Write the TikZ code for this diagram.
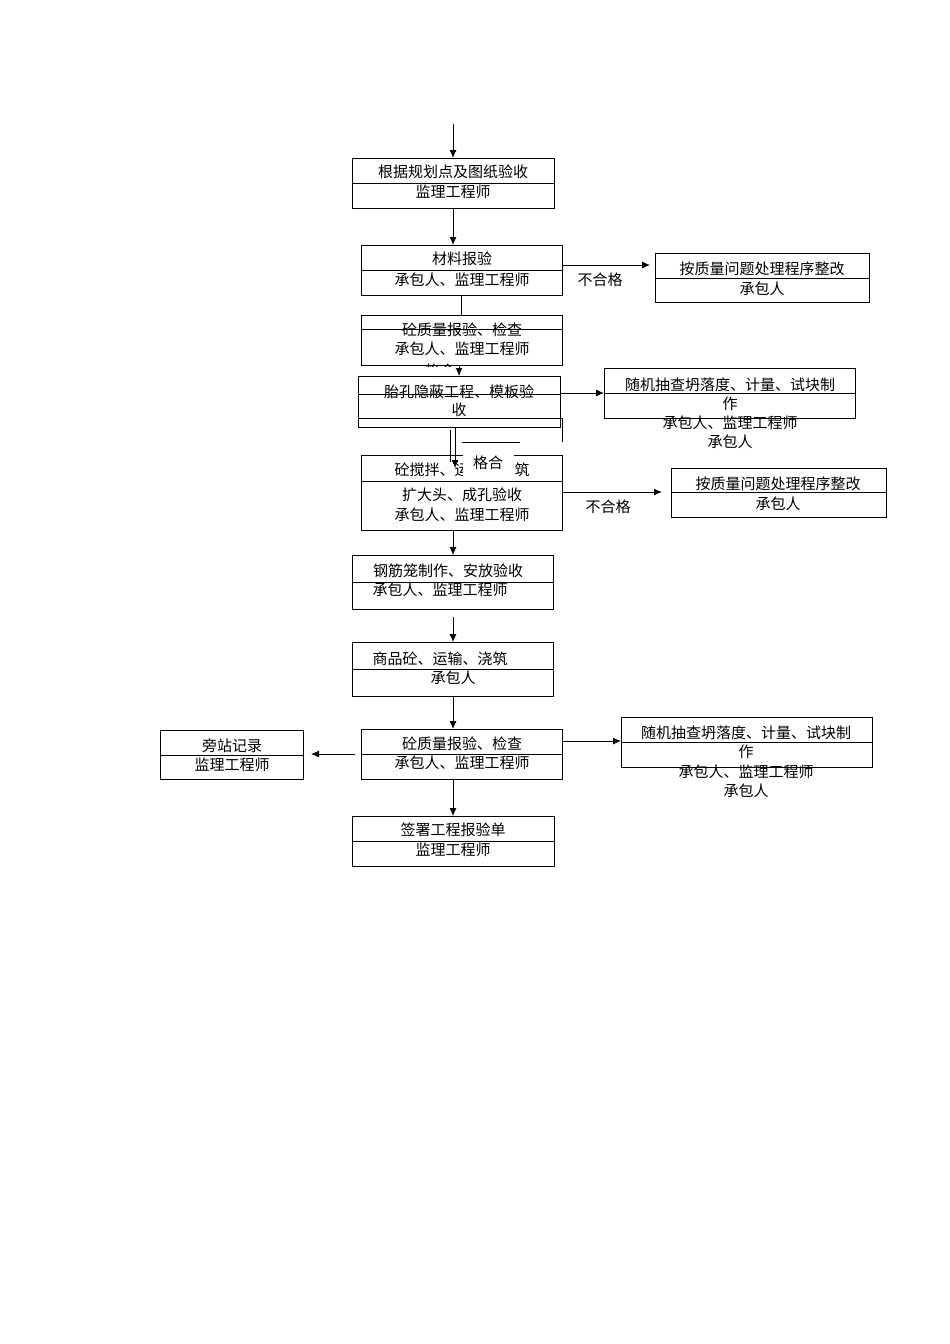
\documentclass[tikz,border=0pt]{standalone}
\usepackage{fontspec}
\setmainfont{Noto Sans CJK SC}
\usetikzlibrary{arrows.meta}
\begin{document}
\begin{tikzpicture}[x=1pt,y=-1pt,
  bx/.style={draw,line width=0.9pt},
  tx/.style={font=\fontsize{15}{17}\selectfont,inner sep=0pt},
  ar/.style={-{Latex[length=8pt,width=7pt]},line width=0.9pt},
  ln/.style={line width=0.9pt}]
\useasboundingbox (0,0) rectangle (950,1344);
\newcommand\bbox[6]{% name x1 y1 x2 y2 divider
  \draw[bx] (#2,#3) rectangle (#4,#5);
  \draw[ln] (#2,#6) -- (#4,#6);
  \coordinate (#1) at ({(#2+#4)/2},#3);}
% boxes
\bbox{b1}{352}{158}{554}{208}{183}
\node[tx] at (453,172) {根据规划点及图纸验收};
\node[tx] at (453,192) {监理工程师};
\bbox{b2}{361}{245}{562}{295}{270}
\node[tx] at (462,259) {材料报验};
\node[tx] at (462,280) {承包人、监理工程师};
\bbox{r1}{655}{253}{869}{302}{278}
\node[tx] at (762,269) {按质量问题处理程序整改};
\node[tx] at (762,289) {承包人};
\bbox{b3}{361}{315}{562}{365}{329}
\node[tx] at (462,330) {砼质量报验、检查};
\node[tx] at (462,349) {承包人、监理工程师};
\node[tx] at (440,371) {格合};
\fill[white] (415,366.5) rectangle (470,375.5);
\draw[bx] (358,376) rectangle (560,427);
\draw[ln] (358,394) -- (560,394);
\draw[ln] (358,418) -- (562,418) -- (562,442);
\node[tx] at (459,392) {胎孔隐蔽工程、模板验};
\node[tx] at (459,410) {收};
\bbox{r2}{604}{368}{855}{418}{393}
\node[tx] at (730,385) {随机抽查坍落度、计量、试块制};
\node[tx] at (730,404) {作};
\node[tx] at (730,423) {承包人、监理工程师};
\node[tx] at (730,442) {承包人};
\bbox{b5}{361}{455}{562}{530}{481}
\node[tx] at (462,470) {砼搅拌、运输、浇筑};
\node[tx] at (462,495) {扩大头、成孔验收};
\node[tx] at (462,515) {承包人、监理工程师};
\fill[white] (463,443) rectangle (514,477);
\draw[ln] (462,442) -- (520,442);
\node[tx] at (488,463) {格合};
\bbox{r3}{671}{468}{886}{517}{492}
\node[tx] at (778,484) {按质量问题处理程序整改};
\node[tx] at (778,504) {承包人};
\bbox{b6}{352}{555}{553}{609}{582}
\node[tx] at (448,571) {钢筋笼制作、安放验收};
\node[tx] at (440,590) {承包人、监理工程师};
\bbox{b7}{352}{642}{553}{696}{669}
\node[tx] at (440,659) {商品砼、运输、浇筑};
\node[tx] at (453,678) {承包人};
\bbox{b8}{361}{729}{562}{779}{754}
\node[tx] at (462,744) {砼质量报验、检查};
\node[tx] at (462,763) {承包人、监理工程师};
\bbox{lf}{160}{730}{303}{779}{755}
\node[tx] at (232,746) {旁站记录};
\node[tx] at (232,765) {监理工程师};
\bbox{r4}{621}{717}{872}{767}{742}
\node[tx] at (746,733) {随机抽查坍落度、计量、试块制};
\node[tx] at (746,752) {作};
\node[tx] at (746,772) {承包人、监理工程师};
\node[tx] at (746,791) {承包人};
\bbox{b9}{352}{816}{554}{866}{841}
\node[tx] at (453,830) {签署工程报验单};
\node[tx] at (453,850) {监理工程师};
% connectors
\coordinate (top) at (453,124);
\draw[ar] (top) -- (b1);
\draw[ar] (453,208) -- (453,245);
\draw[ln] (461,295) -- (461,315);
\draw[ar] (562,265) -- (650,265);
\node[tx] at (600,280) {不合格};
\draw[ar] (459,365) -- (459,376);
\draw[ar] (560,393) -- (604,393);
\draw[ar] (455,427) -- (455,468);
\draw[ln] (450,430) -- (450,462);
\draw[ar] (562,492) -- (662,492);
\node[tx] at (608,507) {不合格};
\draw[ar] (453,530) -- (453,555);
\draw[ar] (453,617) -- (453,642);
\draw[ar] (453,696) -- (453,729);
\draw[ar] (355,754) -- (311,754);
\draw[ar] (562,741) -- (621,741);
\draw[ar] (453,779) -- (453,816);
\end{tikzpicture}
\end{document}
